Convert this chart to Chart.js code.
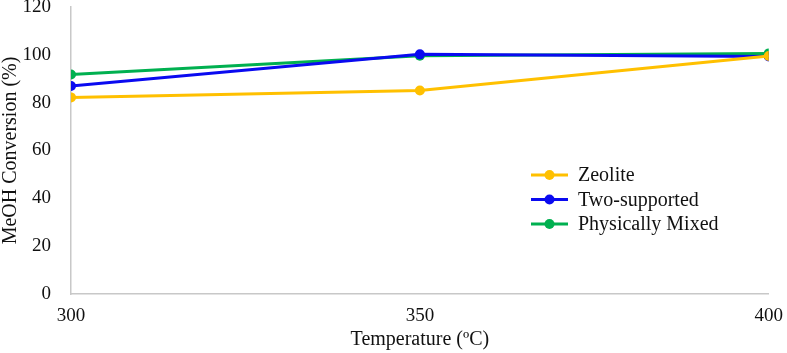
<!DOCTYPE html>
<html>
<head>
<meta charset="utf-8">
<script src="https://cdn.jsdelivr.net/npm/chart.js@4/dist/chart.umd.min.js"></script>
<style>
  html, body { margin: 0; padding: 0; background: #fff; }
  #wrap { width: 787px; height: 353px; }
</style>
</head>
<body>
<div id="wrap"><canvas id="convChart"></canvas></div>
<script>
// data
const temps = [300, 350, 400];
const zeolite = [82.2, 85.1, 99.5];
const twoSupported = [87.0, 100.2, 99.3];
const physMixed = [91.8, 99.6, 100.6];
const yTicks = [0, 20, 40, 60, 80, 100, 120];

const serif = '"Liberation Serif", "DejaVu Serif", serif';

function pts(vals) {
  return temps.map((t, i) => ({ x: t, y: vals[i] }));
}

// legend drawn inside the plot, lower right
const innerLegend = {
  id: 'innerLegend',
  afterDraw(chart) {
    const c = chart.ctx;
    const x0 = 531;
    const y0 = 175;
    c.save();
    c.font = '20px ' + serif;
    c.textBaseline = 'middle';
    chart.data.datasets.forEach((ds, i) => {
      const y = y0 + i * 24.5;
      c.strokeStyle = ds.borderColor;
      c.lineWidth = 3;
      c.beginPath();
      c.moveTo(x0, y);
      c.lineTo(x0 + 37, y);
      c.stroke();
      c.fillStyle = ds.borderColor;
      c.beginPath();
      c.arc(x0 + 18.5, y, 5, 0, Math.PI * 2);
      c.fill();
      c.fillStyle = '#111';
      c.fillText(ds.label, x0 + 47, y + 1);
    });
    c.restore();
  }
};

const ctx = document.getElementById('convChart').getContext('2d');
new Chart(ctx, {
  type: 'line',
  data: {
    datasets: [
      { label: 'Zeolite', data: pts(zeolite), borderColor: '#FFC000', backgroundColor: '#FFC000' },
      { label: 'Two-supported', data: pts(twoSupported), borderColor: '#0A0AF0', backgroundColor: '#0A0AF0' },
      { label: 'Physically Mixed', data: pts(physMixed), borderColor: '#00B050', backgroundColor: '#00B050' },
    ],
  },
  options: {
    responsive: true,
    maintainAspectRatio: false,
    animation: false,
    layout: { padding: { top: 0, right: 5, left: 0, bottom: 0 } },
    elements: {
      line: { borderWidth: 3, tension: 0 },
      point: { radius: 5, borderWidth: 0, hoverRadius: 6 },
    },
    plugins: {
      legend: { display: false },
      tooltip: { enabled: true },
    },
    scales: {
      x: {
        type: 'linear',
        min: 300,
        max: 400,
        afterBuildTicks: (ax) => { ax.ticks = temps.map(v => ({ value: v })); },
        grid: { display: false, drawOnChartArea: false },
        border: { color: '#c8c8c8', width: 1.5 },
        ticks: { color: '#111', font: { family: serif, size: 19, lineHeight: 1.1 }, padding: 4 },
        title: { display: true, text: 'Temperature (ºC)', color: '#111', font: { family: serif, size: 20, lineHeight: 1.1 }, padding: { top: 3, bottom: 2 } },
        afterFit: (ax) => { ax.height = 59; },
      },
      y: {
        min: 0,
        max: 120,
        afterBuildTicks: (ax) => { ax.ticks = yTicks.map(v => ({ value: v })); },
        grid: { display: false },
        border: { color: '#c8c8c8', width: 1.5 },
        ticks: { color: '#111', font: { family: serif, size: 19, lineHeight: 1 }, padding: 12 },
        title: { display: true, text: 'MeOH Conversion (%)', color: '#111', font: { family: serif, size: 20, lineHeight: 1.1 }, padding: { top: 0, bottom: 2 } },
        afterFit: (ax) => { ax.width = 71; ax.paddingTop = 7; ax.paddingBottom = 0; },
      },
    },
  },
  plugins: [innerLegend],
});
</script>
</body>
</html>
